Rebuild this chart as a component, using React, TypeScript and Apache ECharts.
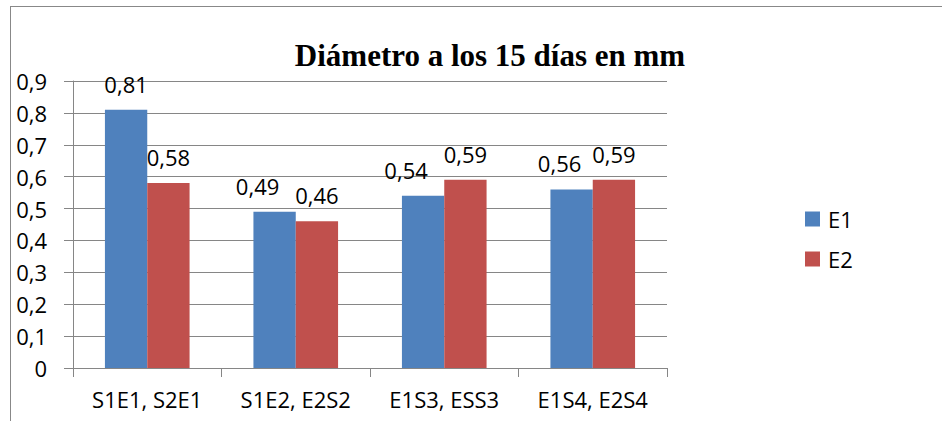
import React, { useEffect, useRef } from "react";
import * as echarts from "echarts";

const categories = ["S1E1, S2E1", "S1E2, E2S2", "E1S3, ESS3", "E1S4, E2S4"];
const e1Values = [0.81, 0.49, 0.54, 0.56];
const e2Values = [0.58, 0.46, 0.59, 0.59];
const seriesNames = ["E1", "E2"];
const titleText = "Diámetro a los 15 días en mm";

// horizontal nudges so neighbouring value labels don't collide
const e1LabelShift = [0, -17, -17, -12];
const e2LabelShift = [0, 0, 0, 0];

const FONT = "'Open Sans', 'Noto Sans', sans-serif";
const fmt = (v: number) => String(v).replace(".", ",");

const withShift = (values: number[], shifts: number[]) =>
  values.map((v, i) => ({ value: v, label: { offset: [shifts[i], 0] } }));

export default function App() {
  const ref = useRef<HTMLDivElement>(null);
  useEffect(() => {
    if (!ref.current) return;
    const chart = echarts.init(ref.current, undefined, { renderer: "svg" });
    const label = {
      show: true,
      position: "top" as const,
      distance: 15,
      color: "#000",
      fontFamily: FONT,
      fontSize: 22,
      formatter: (p: any) => fmt(p.value),
    };
    chart.setOption({
      animation: false,
      backgroundColor: "#fff",
      title: {
        text: titleText,
        left: 485,
        textAlign: "center",
        top: 35,
        textStyle: {
          fontFamily: "'Liberation Serif', 'Times New Roman', serif",
          fontWeight: "bold",
          fontSize: 31,
          color: "#000",
        },
      },
      legend: {
        orient: "vertical",
        left: 800,
        top: 203,
        itemWidth: 15,
        itemHeight: 15,
        itemGap: 18,
        icon: "rect",
        textStyle: { fontFamily: FONT, fontSize: 22, color: "#000", padding: [0, 0, 0, 3] },
        data: seriesNames,
      },
      grid: { left: 73, right: 275, top: 81, bottom: 53 },
      xAxis: {
        type: "category",
        data: categories,
        axisLine: { lineStyle: { color: "#868686", width: 1 } },
        axisTick: { show: true, length: 9, lineStyle: { color: "#868686" } },
        axisLabel: { color: "#000", fontFamily: FONT, fontSize: 22, margin: 20 },
      },
      yAxis: {
        type: "value",
        min: 0,
        max: 0.9,
        interval: 0.1,
        axisLine: { show: true, lineStyle: { color: "#868686", width: 1 } },
        axisTick: { show: true, length: 9, lineStyle: { color: "#868686" } },
        axisLabel: {
          color: "#000",
          fontFamily: FONT,
          fontSize: 22,
          margin: 26,
          formatter: (v: number) => fmt(Math.round(v * 10) / 10),
        },
        splitLine: { lineStyle: { color: "#868686", width: 1 } },
      },
      series: [
        {
          name: seriesNames[0],
          type: "bar",
          data: withShift(e1Values, e1LabelShift),
          barGap: "0%",
          barCategoryGap: "43%",
          itemStyle: { color: "#4F81BD" },
          label,
        },
        {
          name: seriesNames[1],
          type: "bar",
          data: withShift(e2Values, e2LabelShift),
          barGap: "0%",
          barCategoryGap: "43%",
          itemStyle: { color: "#C0504D" },
          label,
        },
      ],
      graphic: [
        { type: "line", shape: { x1: 10.5, y1: 6, x2: 10.5, y2: 421 }, style: { stroke: "#888", lineWidth: 1 } },
        { type: "line", shape: { x1: 10, y1: 6.5, x2: 942, y2: 6.5 }, style: { stroke: "#888", lineWidth: 1 } },
      ],
    });
    return () => chart.dispose();
  }, []);
  return (
    <div
      ref={ref}
      style={{ position: "absolute", left: 0, top: 0, width: 942, height: 421 }}
    />
  );
}
